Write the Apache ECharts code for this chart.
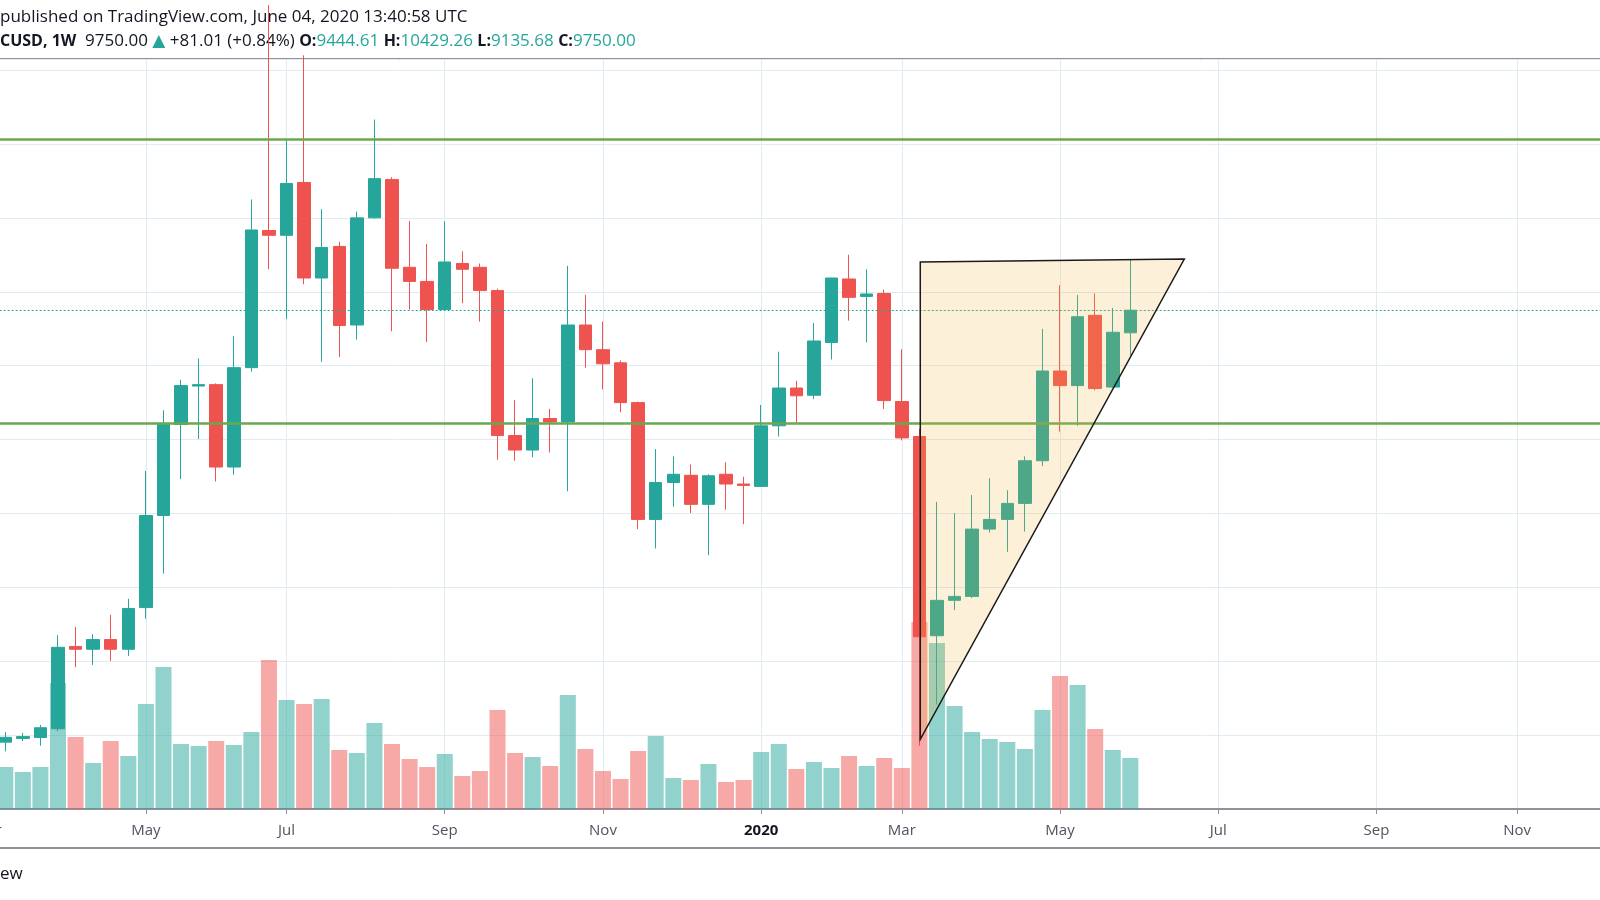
<!DOCTYPE html>
<html><head><meta charset="utf-8">
<script src="https://cdn.jsdelivr.net/npm/echarts@6/dist/echarts.min.js"></script>
<style>html,body{margin:0;padding:0;background:#fff}#c{width:1600px;height:900px}</style>
</head><body><div id="c"></div>
<script>
// Weekly bars (Monday dates); first slot and trailing slots are empty chart space
const weeks = ['2019-03-04','2019-03-11','2019-03-18','2019-03-25','2019-04-01','2019-04-08','2019-04-15','2019-04-22','2019-04-29',
'2019-05-06','2019-05-13','2019-05-20','2019-05-27','2019-06-03','2019-06-10','2019-06-17','2019-06-24',
'2019-07-01','2019-07-08','2019-07-15','2019-07-22','2019-07-29','2019-08-05','2019-08-12','2019-08-19','2019-08-26',
'2019-09-02','2019-09-09','2019-09-16','2019-09-23','2019-09-30','2019-10-07','2019-10-14','2019-10-21','2019-10-28',
'2019-11-04','2019-11-11','2019-11-18','2019-11-25','2019-12-02','2019-12-09','2019-12-16','2019-12-23','2019-12-30',
'2020-01-06','2020-01-13','2020-01-20','2020-01-27','2020-02-03','2020-02-10','2020-02-17','2020-02-24',
'2020-03-02','2020-03-09','2020-03-16','2020-03-23','2020-03-30','2020-04-06','2020-04-13','2020-04-20','2020-04-27',
'2020-05-04','2020-05-11','2020-05-18','2020-05-25','2020-06-01','2020-06-08','2020-06-15','2020-06-22','2020-06-29',
'2020-07-06','2020-07-13','2020-07-20','2020-07-27','2020-08-03','2020-08-10','2020-08-17','2020-08-24','2020-08-31',
'2020-09-07','2020-09-14','2020-09-21','2020-09-28','2020-10-05','2020-10-12','2020-10-19','2020-10-26',
'2020-11-02','2020-11-09','2020-11-16','2020-11-23','2020-11-30','2020-12-07'];

// candle dates: 2019-03-11 .. 2020-06-01 (65 weekly bars)
const candleDates = weeks.slice(1, 66);
const opens  = [3905,3955,3968,4086,5200,5162,5293,5162,5726,6972,8205,8724,8743,7628,8973,10829,
10764,11479,10186,10613,9550,11000,11518,10331,10140,9760,10383,10331,10016,8054,7858,8284,
8238,9550,9216,9038,8500,6919,7418,7516,7123,7530,7398,7366,8186,8697,8599,9314,
10173,9937,9977,8514,8041,5345,5824,5877,6788,6919,7136,7713,8927,8730,9681,8710,9444.61];
const closes = [3970,3980,4100,5188,5162,5293,5162,5713,6972,8205,8730,8743,7628,8973,10836,10764,
11466,10186,10600,9543,11000,11531,10318,10140,9760,10403,10304,10016,8054,7858,8284,8238,
9550,9216,9025,8500,6919,7418,7530,7123,7510,7398,7379,8186,8697,8592,9334,10186,
9924,9970,8527,8022,5332,5824,5877,6788,6919,7136,7713,8927,8730,9662,8691,9452,9750.00];
const lows   = [3780,3920,3856,4053,4919,4951,5004,5070,5575,6185,7464,8008,7431,7523,8920,10304,
9629,10101,9052,9117,9353,10990,9465,9760,9320,9750,9845,9596,7726,7713,7759,7825,
7300,8973,8678,8369,6788,6526,7090,7005,6434,7051,6854,7360,8041,8218,8546,9084,
9609,9314,8415,7989,3856,4414,5693,5857,6742,6480,6755,7641,8107,8186,8665,8700,9135.68];
const highs  = [4040,4030,4138,5352,5463,5365,5627,5844,7575,8396,8809,9097,8760,9399,11249,13880,
12056,13200,11118,10678,11085,12331,11551,10960,10646,10954,10547,10383,10042,8533,8829,8415,
10350,9957,9596,9071,8514,7871,7772,7661,7530,7694,7497,8468,9189,8796,9576,10190,
10501,10304,10029,9222,8150,7156,7005,7248,7477,7313,7772,9498,10088,9957,9977,9780,10429.26];
// volume (relative units)
const volumes = [42,37,42,126,72,46,68,53,105,142,65,63,68,64,77,149,
109,105,110,59,56,86,65,50,42,55,33,38,99,56,52,43,
114,60,38,30,58,73,31,29,45,27,29,57,65,40,47,41,
53,43,51,41,187,166,103,77,70,67,60,99,133,124,80,59,51];

// x-axis tick labels
const tickWeeks  = ['2019-03-04','2019-05-06','2019-07-01','2019-09-02','2019-11-04','2020-01-06','2020-03-02','2020-05-04','2020-07-06','2020-09-07','2020-11-02'];
const tickLabels = ['Mar','May','Jul','Sep','Nov','2020','Mar','May','Jul','Sep','Nov'];

// horizontal levels
const levelPrices = [12070, 8218];
const lastPrice = 9750.00;
// triangle drawing: anchors as fractional week slot, price
const triSlot  = [53.05, 68.07, 53.05];
const triPrice = [10403, 10443, 3942];

const UP = '#26a69a', DOWN = '#ef5350';
const tickMap = {};
tickWeeks.forEach((w, j) => tickMap[w] = tickLabels[j]);

const candleData = candleDates.map((d, j) => [d, opens[j], closes[j], lows[j], highs[j]]);
const volData = candleDates.map((d, j) => ({
  value: [d, volumes[j]],
  itemStyle: { color: closes[j] >= opens[j] ? 'rgba(38,166,154,0.5)' : 'rgba(239,83,80,0.5)' }
}));

const chart = echarts.init(document.getElementById('c'), null, { renderer: 'canvas' });
const FONT = 'Open Sans';
chart.setOption({
  animation: false,
  backgroundColor: '#ffffff',
  grid: { left: -12.32, right: -5.0, top: 59, bottom: 91, containLabel: false, outerBoundsMode: 'none' },
  xAxis: {
    type: 'category', data: weeks, boundaryGap: false,
    axisLine: { show: true, lineStyle: { color: '#8f929b', width: 2 } },
    axisTick: { show: true, length: 5, interval: (i, v) => tickMap[v] !== undefined, lineStyle: { color: '#8f929b', width: 1 } },
    axisLabel: {
      interval: (i, v) => tickMap[v] !== undefined,
      formatter: v => { const t = tickMap[v]; if (!t) return ''; return /^\d+$/.test(t) ? '{y|' + t + '}' : t; },
      color: '#50535e', fontSize: 15, fontFamily: FONT, margin: 14,
      rich: { y: { fontWeight: 'bold', color: '#131722', fontSize: 15, fontFamily: FONT } }
    },
    splitLine: { show: true, interval: (i, v) => tickMap[v] !== undefined, lineStyle: { color: '#e1ecf2', width: 1 } }
  },
  yAxis: [
    { type: 'value', min: 3000, max: 13150, interval: 1000, scale: true,
      axisLine: { show: false }, axisTick: { show: false }, axisLabel: { show: false },
      splitLine: { show: true, lineStyle: { color: '#e1ecf2', width: 1 } } },
    { type: 'value', min: 0, max: 750, show: false, splitLine: { show: false } }
  ],
  series: [
    { type: 'bar', name: 'Volume', yAxisIndex: 1, data: volData, barWidth: 16, z: 1, encode: { x: 0, y: 1 } },
    { type: 'candlestick', name: 'BTCUSD', data: candleData, encode: { x: 0, y: [1, 2, 3, 4] },
      barWidth: 13, z: 2, clip: true,
      itemStyle: { color: UP, color0: DOWN, borderColor: UP, borderColor0: DOWN, borderWidth: 1 },
      markLine: {
        symbol: 'none', silent: true, label: { show: false },
        data: [
          { yAxis: levelPrices[0], lineStyle: { color: '#6aa84f', width: 2.5, type: 'solid' } },
          { yAxis: levelPrices[1], lineStyle: { color: '#6aa84f', width: 2.5, type: 'solid' } },
          { yAxis: lastPrice, lineStyle: { color: UP, width: 1, type: [2, 2] } }
        ]
      }
    },
    { type: 'custom', name: 'Triangle', z: 5, silent: true, data: [[triSlot[0], triPrice[0]]],
      renderItem: (params, api) => {
        const pts = triSlot.map((s, j) => {
          const s0 = Math.floor(s);
          const a = api.coord([s0, triPrice[j]]);
          const b = api.coord([s0 + 1, triPrice[j]]);
          return [a[0] + (s - s0) * (b[0] - a[0]), a[1]];
        });
        return { type: 'polygon', shape: { points: pts },
          style: { fill: 'rgba(240,180,60,0.2)', stroke: '#1b1b1b', lineWidth: 1.5 } };
      }
    }
  ],
  graphic: [
    { type: 'text', left: 0, top: 9, style: { text: 'published on TradingView.com, June 04, 2020 13:40:58 UTC', fontFamily: FONT, fontSize: 17, fill: '#131722' } },
    { type: 'text', left: 0, top: 33, style: {
      text: '{b|CUSD, 1W}  {n|9750.00} {t|▲} {n|+81.01 (+0.84%)} {b|O:}{g|9444.61} {b|H:}{g|10429.26} {b|L:}{g|9135.68} {b|C:}{g|9750.00}',
      fontFamily: FONT, fontSize: 17, fill: '#131722',
      rich: {
        b: { fontFamily: FONT, fontSize: 16, fontWeight: 'bold', fill: '#131722' },
        n: { fontFamily: FONT, fontSize: 17, fill: '#131722' },
        g: { fontFamily: FONT, fontSize: 17, fill: '#26a69a' },
        t: { fontFamily: 'DejaVu Sans', fontSize: 17, fill: '#26a69a' }
      } } },
    { type: 'line', shape: { x1: 0, y1: 59, x2: 1600, y2: 59 }, style: { stroke: '#8f929b', lineWidth: 2 } },
    { type: 'line', shape: { x1: 0, y1: 848, x2: 1600, y2: 848 }, style: { stroke: '#8f929b', lineWidth: 2 } },
    { type: 'text', left: 0, top: 866, style: { text: 'ew', fontFamily: FONT, fontSize: 17, fill: '#131722' } }
  ]
});
</script>
</body></html>
